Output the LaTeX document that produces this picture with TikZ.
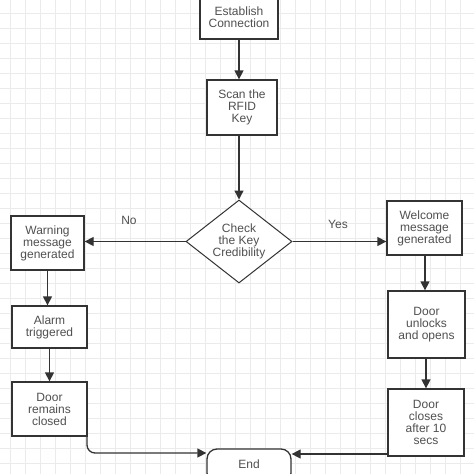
\documentclass[tikz,border=0pt]{standalone}
\usepackage{fontspec}
\setmainfont{Liberation Sans}
\usetikzlibrary{arrows.meta,shapes.geometric}
\definecolor{gridc}{HTML}{EBEBEB}
\definecolor{linec}{HTML}{333333}
\definecolor{txtc}{HTML}{505050}
\tikzset{
  box/.style={draw=linec, line width=1.3pt, fill=white, text=txtc, align=center,
    inner sep=0pt, font=\fontsize{12}{12}\selectfont},
  dia/.style={draw=linec, line width=1pt, fill=white, text=txtc, align=center,
    diamond, inner sep=0pt, font=\fontsize{12}{12}\selectfont},
  conn/.style={draw=linec, line width=1.3pt, -{Triangle[length=9pt,width=9pt]}},
  lbl/.style={text=txtc, font=\fontsize{12}{12}\selectfont},
}
\begin{document}
\begin{tikzpicture}[x=1pt,y=-1pt]
\clip (0,0) rectangle (474,474);
\fill[white] (0,0) rectangle (474,474);
\foreach \i in {0,...,32} {
  \draw[gridc, line width=0.8pt] (10+15*\i,0) -- (10+15*\i,474);
  \draw[gridc, line width=0.8pt] (0,13+15*\i) -- (474,13+15*\i);
}
% nodes
\node[box, minimum width=78pt, minimum height=44pt] (est) at (239,17) {Establish\\Connection};
\node[box, minimum width=70pt, minimum height=55pt] (scan) at (242,107.5) {Scan the\\RFID\\Key};
\node[dia, minimum width=106pt, minimum height=83pt, aspect=1.28] (chk) at (239,241.5) {Check\\the Key\\Credibility};
\node[box, minimum width=73pt, minimum height=54pt] (warn) at (47.5,243) {Warning\\message\\generated};
\node[box, minimum width=75pt, minimum height=42pt] (alarm) at (49.5,327) {Alarm\\triggered};
\node[box, minimum width=75pt, minimum height=54pt] (rem) at (49.5,409) {Door\\remains\\closed};
\node[box, minimum width=75pt, minimum height=54pt] (wel) at (424.5,228) {Welcome\\message\\generated};
\node[box, minimum width=77pt, minimum height=67pt] (unl) at (426.5,324.5) {Door\\unlocks\\and opens};
\node[box, minimum width=76pt, minimum height=67pt] (cls) at (426,422.5) {Door\\closes\\after 10\\secs};
\node[box, minimum width=84pt, minimum height=34pt, rounded corners=10pt] (end) at (249,466) {};
\node[lbl] (endt) at (249,464) {End};
\node[lbl] (no) at (129,220) {No};
\node[lbl] (yes) at (338,224) {Yes};
% connectors
\draw[conn] (est.south -| 239,0) -- (scan.north -| 239,0);
\draw[conn] (scan.south -| 239,0) -- (chk.north);
\draw[conn] (chk.west) -- (warn.east |- chk.west);
\draw[conn] (chk.east) -- (wel.west |- chk.east);
\draw[conn] (warn.south -| 47.5,0) -- (alarm.north -| 47.5,0);
\draw[conn] (alarm.south -| 49.5,0) -- (rem.north -| 49.5,0);
\draw[conn] (wel.south -| 425,0) -- (unl.north -| 425,0);
\draw[conn] (unl.south -| 426,0) -- (cls.north -| 426,0);
\coordinate (rc) at (87,434);
\draw[conn, rounded corners=8pt] (rc) -- (87,453) -- (end.west |- 0,453);
\draw[conn] (cls.west |- 0,454) -- (end.east |- 0,454);
\end{tikzpicture}
\end{document}
